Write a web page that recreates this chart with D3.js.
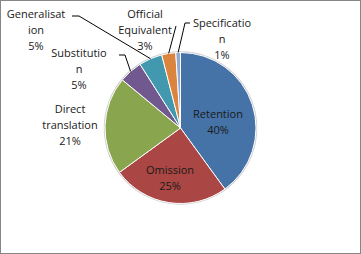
<!DOCTYPE html>
<html>
<head>
<meta charset="utf-8">
<script src="https://cdn.jsdelivr.net/npm/d3@7"></script>
<style>
  html, body { margin: 0; padding: 0; background: #fff; }
  #chart { width: 361px; height: 254px; }
</style>
</head>
<body>
<div id="chart"></div>
<script>
// data
const categories = ['Retention', 'Omission', 'Direct translation', 'Substitution', 'Generalisation', 'Official Equivalent', 'Specification'];
const values = [40, 25, 21, 5, 5, 3, 1];
const labelLines = [
  ['Retention', '40%'],
  ['Omission', '25%'],
  ['Direct', 'translation', '21%'],
  ['Substitutio', 'n', '5%'],
  ['Generalisat', 'ion', '5%'],
  ['Official', 'Equivalent', '3%'],
  ['Specificatio', 'n', '1%']
];
const colors = ['#4572A7', '#AA4643', '#89A54E', '#71588F', '#4198AF', '#DB843D', '#93A9CF'];

// layout: label centre x, first baseline y, leader start + elbow (null = no leader)
const labelLayout = [
  { x: 218, y: 118, leader: null },
  { x: 170, y: 174, leader: null },
  { x: 70, y: 113, leader: null },
  { x: 79, y: 57, leader: [[119, 55], [125, 55]] },
  { x: 36, y: 18, leader: [[72, 16], [79, 16]] },
  { x: 145, y: 18, leader: [[176, 26], [176, 26]] },
  { x: 222, y: 27, leader: [[190, 23], [185, 23]] }
];

const W = 361, H = 254;
const cx = 180.5, cy = 128, R = 75.5;
const lineH = 16;

const svg = d3.select('#chart').append('svg')
  .attr('width', W)
  .attr('height', H)
  .style('font-family', "'Open Sans', sans-serif");

svg.append('rect')
  .attr('x', 0.5).attr('y', 0.5)
  .attr('width', W - 1).attr('height', H - 1)
  .attr('fill', '#fff')
  .attr('stroke', '#868686')
  .attr('stroke-width', 1);

const pie = d3.pie().sort(null).value(d => d);
const arcs = pie(values);
const arc = d3.arc().innerRadius(0).outerRadius(R);
const edgeArc = d3.arc().innerRadius(R).outerRadius(R);

const g = svg.append('g').attr('transform', `translate(${cx},${cy})`);

// faint outline around the pie
g.append('circle')
  .attr('r', R + 0.5)
  .attr('fill', 'none')
  .attr('stroke', '#cfcfcf')
  .attr('stroke-width', 1.5);

g.selectAll('path.slice')
  .data(arcs)
  .enter()
  .append('path')
  .attr('class', 'slice')
  .attr('d', arc)
  .attr('fill', (d, i) => colors[i])
  .attr('stroke', '#fff')
  .attr('stroke-width', 1);

// leader lines
arcs.forEach((d, i) => {
  const lay = labelLayout[i];
  if (!lay.leader) return;
  const [ex, ey] = edgeArc.centroid(d);
  const pts = lay.leader.concat([[cx + ex, cy + ey]]);
  svg.append('path')
    .attr('d', d3.line()(pts))
    .attr('fill', 'none')
    .attr('stroke', '#000')
    .attr('stroke-width', 1);
});

// labels
labelLines.forEach((lines, i) => {
  const lay = labelLayout[i];
  const t = svg.append('text')
    .attr('text-anchor', 'middle')
    .style('font-size', '11px')
    .style('fill', '#1a1a1a');
  lines.forEach((s, j) => {
    t.append('tspan')
      .attr('x', lay.x)
      .attr('y', lay.y + j * lineH)
      .text(s);
  });
});
</script>
</body>
</html>
